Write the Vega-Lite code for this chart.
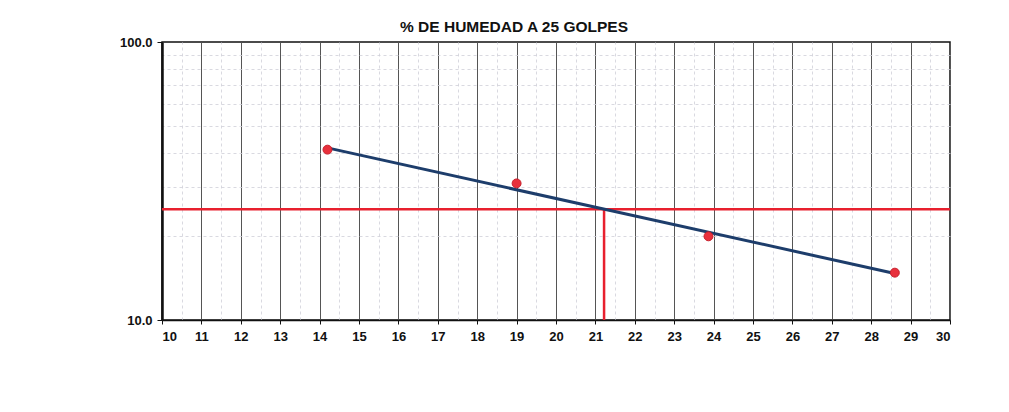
{
  "$schema": "https://vega.github.io/schema/vega-lite/v6.json",
  "autosize": "none",
  "width": 788,
  "height": 278,
  "padding": {"left": 162, "top": 42, "right": 59, "bottom": 92},
  "background": "white",
  "title": {
    "text": "% DE HUMEDAD A 25 GOLPES",
    "font": "Liberation Sans",
    "fontSize": 15.5,
    "fontWeight": "bold",
    "color": "#111",
    "anchor": "middle",
    "dx": -42,
    "offset": 1
  },
  "config": {
    "view": {"stroke": "#111", "strokeWidth": 1.5},
    "axis": {
      "labelFont": "Liberation Sans",
      "labelFontWeight": "bold",
      "labelFontSize": 13,
      "labelColor": "#111",
      "title": null
    }
  },
  "datasets": {
    "ensayos": [
      {"humedad": 14.2, "golpes": 41},
      {"humedad": 19.0, "golpes": 31},
      {"humedad": 23.87, "golpes": 20},
      {"humedad": 28.6, "golpes": 14.8}
    ],
    "tendencia": [
      {"humedad": 14.2, "golpes": 41.6},
      {"humedad": 28.6, "golpes": 14.7}
    ],
    "referencia": [
      {"x": 10, "x2": 30, "y": 25, "y2": 25},
      {"x": 21.22, "x2": 21.22, "y": 10, "y2": 25}
    ]
  },
  "layer": [
    {
      "data": {"name": "referencia"},
      "mark": {"type": "rule", "color": "#e8202e", "strokeWidth": 2.5},
      "encoding": {
        "x": {"field": "x", "type": "quantitative", "scale": {"domain": [10, 30], "nice": false, "zero": false},
          "axis": {"orient": "top", "values": [10.5, 11.5, 12.5, 13.5, 14.5, 15.5, 16.5, 17.5, 18.5, 19.5, 20.5, 21.5, 22.5, 23.5, 24.5, 25.5, 26.5, 27.5, 28.5, 29.5],
            "grid": true, "gridColor": "#cfcfd8", "gridWidth": 0.8, "gridDash": [3, 3],
            "labels": false, "ticks": false, "domain": false}},
        "x2": {"field": "x2"},
        "y": {"field": "y", "type": "quantitative", "scale": {"type": "log", "domain": [10, 100], "nice": false},
          "axis": {"orient": "right", "values": [20, 30, 40, 50, 60, 70, 80, 90],
            "grid": true, "gridColor": "#cfcfd8", "gridWidth": 0.8, "gridDash": [3, 3],
            "labels": false, "ticks": false, "domain": false}},
        "y2": {"field": "y2"}
      }
    },
    {
      "data": {"name": "tendencia"},
      "mark": {"type": "line", "color": "#1d3d6b", "strokeWidth": 3},
      "encoding": {
        "x": {"field": "humedad", "type": "quantitative",
          "axis": {"orient": "bottom", "values": [10, 11, 12, 13, 14, 15, 16, 17, 18, 19, 20, 21, 22, 23, 24, 25, 26, 27, 28, 29, 30],
            "grid": true, "gridColor": "#555", "gridWidth": 1,
            "domainColor": "#111", "domainWidth": 1.5, "tickColor": "#111", "tickSize": 4,
            "labelPadding": 6}},
        "y": {"field": "golpes", "type": "quantitative",
          "axis": {"orient": "left", "values": [10, 100], "format": ".1f", "grid": false,
            "domainColor": "#111", "domainWidth": 2.5, "tickColor": "#111", "tickSize": 5,
            "labelPadding": 5}}
      }
    },
    {
      "data": {"name": "ensayos"},
      "mark": {"type": "circle", "size": 80, "color": "#e8303c", "opacity": 1, "stroke": "#c8202c", "strokeWidth": 1},
      "encoding": {
        "x": {"field": "humedad", "type": "quantitative", "axis": null},
        "y": {"field": "golpes", "type": "quantitative", "axis": null}
      }
    }
  ],
  "resolve": {"axis": {"x": "independent", "y": "independent"}}
}
